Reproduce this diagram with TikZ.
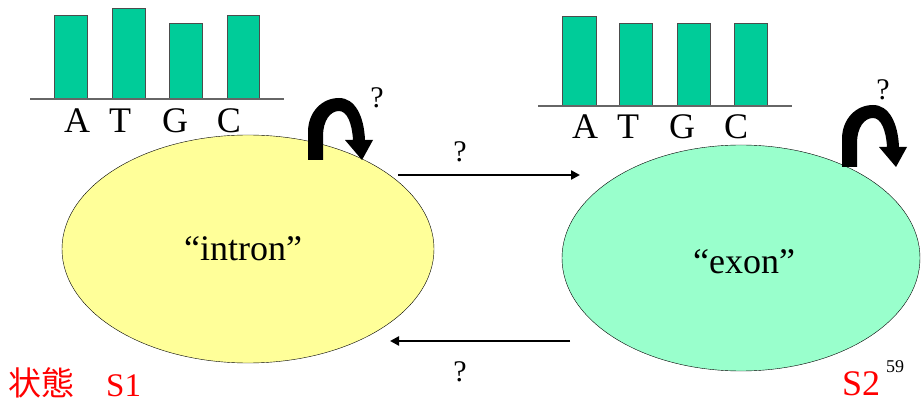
\documentclass[tikz,border=0pt]{standalone}
\usepackage{fontspec}
\setmainfont{Liberation Serif}
\newfontfamily\cjk{Noto Sans CJK JP}
\usepackage{tikz}
\usetikzlibrary{positioning, arrows.meta, shapes.geometric}

\definecolor{intronfill}{RGB}{255,255,153}
\definecolor{exonfill}{RGB}{153,255,204}
\definecolor{barfill}{RGB}{0,204,153}

\begin{document}
\begin{tikzpicture}[
  x=1pt, y=-1pt,
  big/.style={font=\fontsize{36}{42}\selectfont},
  qmark/.style={font=\fontsize{30}{36}\selectfont},
  state/.style={ellipse, draw=black, thin, inner sep=0pt},
  bar/.style={fill=barfill, draw=black!70, line width=0.8pt},
  base/.style={draw=black!60, line width=1.2pt},
  trans/.style={draw=black, line width=2.4pt, -{Triangle[length=9pt, width=9pt]}},
  red lab/.style={red, anchor=base west, inner sep=0pt},
]
  \useasboundingbox (0,0) rectangle (921,403);

  % States
  \node[state, fill=intronfill, minimum width=372pt, minimum height=228pt] (s1) at (248,249) {};
  \node[state, fill=exonfill, minimum width=358pt, minimum height=226pt] (s2) at (741,258) {};
  \node[big] (t1) at (243,249) {“intron”};
  \node[big] (t2) at (744,262) {“exon”};

  % Base composition bars (left, top, right, label x)
  \foreach \l/\t/\r/\lx/\b in {54/15/87/77/A, 112/8/145/120/T, 169/23/202/175/G, 227/15/259/229/C}{
    \draw[bar] (\l,99) rectangle (\r,\t);
    \node[big] (b1\b) at (\lx,121) {\b};
  }
  \draw[base] (30,99) -- (284,99);
  \foreach \l/\t/\r/\lx/\b in {562/16/596/585/A, 619/23/652/628/T, 677/23/710/682/G, 734/23/767/736/C}{
    \draw[bar] (\l,106) rectangle (\r,\t);
    \node[big] (b2\b) at (\lx,127) {\b};
  }
  \draw[base] (538,106) -- (792,106);

  % Self loops (bent block arrows)
  \foreach \dx/\dy in {0/0, 534/7}{
    \fill[black, shift={(\dx,\dy)}]
      (308,160) -- (308,132) .. controls (308,112) and (322,98) .. (339,98)
      .. controls (355,98) and (364,116) .. (365,140) -- (373,140) -- (362,160)
      -- (345,140) -- (353,140) .. controls (352,123) and (347,111) .. (339,111)
      .. controls (330,111) and (323,121) .. (323,136) -- (323,160) -- cycle;
  }
  \node[qmark] (q1) at (377,98) {?};
  \node[qmark] (q2) at (883,90) {?};

  % Transitions between states
  \coordinate (a1) at (398,175);
  \coordinate (a2) at (580,175);
  \coordinate (a3) at (570,341);
  \coordinate (a4) at (390,341);
  \draw[trans] (a1) -- (a2);
  \draw[trans] (a3) -- (a4);
  \node[qmark] (q3) at (460,152) {?};
  \node[qmark] (q4) at (460,372) {?};

  % State labels
  \node[red lab, font=\cjk\fontsize{33}{38}\selectfont] (lab0) at (8,395) {状態};
  \node[red lab, font=\fontsize{33}{38}\selectfont] (lab1) at (106,396) {S1};
  \node[red lab, font=\fontsize{36}{42}\selectfont] (lab2) at (842,395) {S2};
  \node[font=\fontsize{18}{20}\selectfont] (pg) at (895,367) {59};
\end{tikzpicture}
\end{document}
